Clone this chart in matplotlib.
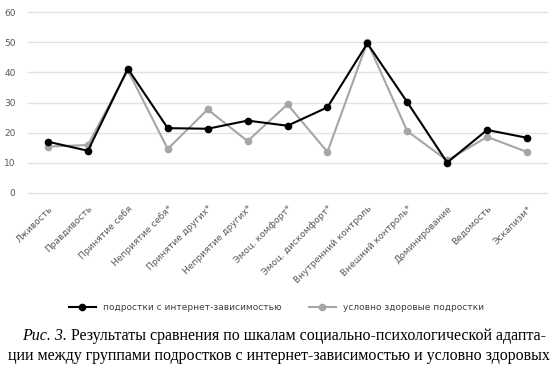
import matplotlib
matplotlib.use("Agg")
import matplotlib.pyplot as plt

categories = [
    "Лживость", "Правдивость", "Принятие себя", "Неприятие себя*",
    "Принятие других*", "Неприятие других*", "Эмоц. комфорт*",
    "Эмоц. дискомфорт*", "Внутренний контроль", "Внешний контроль*",
    "Доминирование", "Ведомость", "Эскапизм*",
]
addicted = [17.0, 14.0, 41.2, 21.5, 21.3, 24.0, 22.3, 28.4, 49.6, 30.1, 10.1, 20.9, 18.3]
healthy = [15.4, 15.9, 40.7, 14.6, 27.7, 17.2, 29.4, 13.6, 50.0, 20.5, 10.8, 18.6, 13.6]
yticks = [0, 10, 20, 30, 40, 50, 60]

label_addicted = "подростки с интернет-зависимостью"
label_healthy = "условно здоровые подростки"

fig = plt.figure(figsize=(5.53, 3.66), dpi=100)
ax = fig.add_axes([28 / 553, 1 - 193 / 366, 519 / 553, 181 / 366])

x = list(range(len(categories)))
ax.plot(x, addicted, color="black", lw=1.5, marker="o", ms=4.5,
        label=label_addicted, zorder=4, clip_on=False)
ax.plot(x, healthy, color="#a6a6a6", lw=1.5, marker="o", ms=4.5,
        label=label_healthy, zorder=3, clip_on=False)

ax.set_xlim(-0.5, len(categories) - 0.5)
ax.set_ylim(0, 60)
ax.set_yticks(yticks)
ax.grid(axis="y", color="#e3e3e3", lw=1, clip_on=False)
ax.set_axisbelow(True)
for s in ax.spines.values():
    s.set_visible(False)
ax.tick_params(length=0, labelsize=6.5, labelcolor="#595959")
ax.tick_params(axis="y", pad=9)
ax.set_xticks(x)
ax.set_xticklabels(categories, rotation=45, ha="right", va="top",
                   rotation_mode="anchor", fontsize=6.5)
ax.tick_params(axis="x", pad=8)
for gl in ax.get_ygridlines():
    gl.set_clip_on(False)

fig.legend(loc="center", bbox_to_anchor=(0.5, 1 - 308 / 366), ncol=2,
           frameon=False, fontsize=6.5, labelcolor="#404040",
           handlelength=3, columnspacing=3)

serif = ["Liberation Serif", "DejaVu Serif"]
cap_size = 11.5
rcap = fig.text(22 / 553, 1 - 336 / 366, "Рис. 3.", family=serif, style="italic",
                fontsize=cap_size, va="center")
fig.canvas.draw()
bb = rcap.get_window_extent().transformed(fig.transFigure.inverted())
fig.text(bb.x1 + 4 / 553, 1 - 336 / 366,
         "Результаты сравнения по шкалам социально-психологической адапта-",
         family=serif, fontsize=cap_size, va="center")
fig.text(8 / 553, 1 - 356 / 366,
         "ции между группами подростков с интернет-зависимостью и условно здоровых",
         family=serif, fontsize=cap_size, va="center")

fig.savefig("out.png", dpi=100)
